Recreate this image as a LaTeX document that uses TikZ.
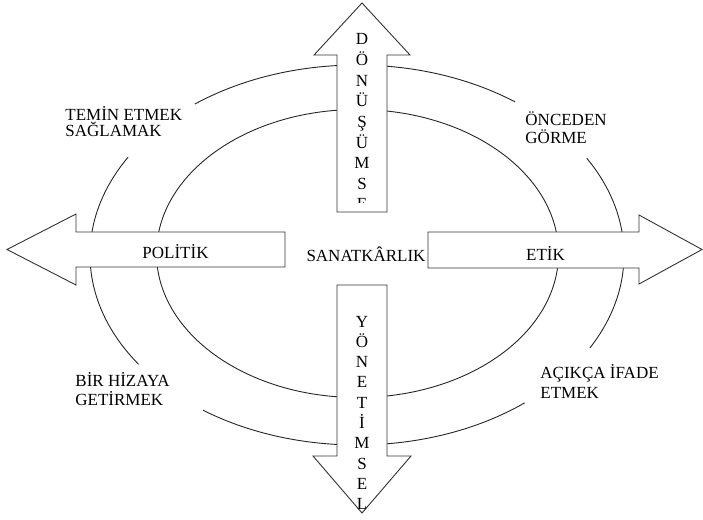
\documentclass[tikz,border=0pt]{standalone}
\usepackage{fontspec}
\setmainfont{Liberation Serif}
\begin{document}
\begin{tikzpicture}[x=1pt,y=-1pt,line width=0.9pt,
  txt/.style={inner sep=0pt,font=\fontsize{17}{19}\selectfont},
  lbl/.style={txt,anchor=base west},
  albl/.style={txt,anchor=base},
  letter/.style={txt,anchor=base},
  ring/.style={draw=black!85},
  arrowshape/.style={draw=black!80,fill=white,line join=miter}]
\useasboundingbox (0,0) rectangle (703,519);
% inner ellipse
\draw[ring] (357.5,253.5) ellipse [x radius=201,y radius=144];
% outer ellipse, broken into four arcs
\begin{scope}[shift={(357,255)}]
  \draw[ring] (232.6:267 and 190) arc[start angle=232.6,end angle=306.3,x radius=267,y radius=190];
  \draw[ring] (-30.6:267 and 190) arc[start angle=-30.6,end angle=29.3,x radius=267,y radius=190];
  \draw[ring] (51.1:267 and 190) arc[start angle=51.1,end angle=125.2,x radius=267,y radius=190];
  \draw[ring] (144.9:267 and 190) arc[start angle=144.9,end angle=211,x radius=267,y radius=190];
\end{scope}
% arrows
\draw[arrowshape] (337,212) -- (337,55) -- (314,55) -- (362,3) -- (410,55) -- (387,55) -- (387,212) -- cycle;
\draw[arrowshape] (337,285) -- (337,456) -- (313,456) -- (362,513) -- (411,456) -- (387,456) -- (387,285) -- cycle;
\draw[arrowshape] (285,232) -- (76,232) -- (76,214) -- (7,249.5) -- (76,285) -- (76,267) -- (285,267) -- cycle;
\draw[arrowshape] (428,232) -- (639,232) -- (639,215) -- (702,249.5) -- (639,284) -- (639,268) -- (428,268) -- cycle;
% vertical texts
\begin{scope}
  \clip (314,5) rectangle (410,202);
  \foreach \l [count=\i] in {D,Ö,N,Ü,Ş,Ü,M,S,E}
    \node[letter] (top\i) at (362,{45+(\i-1)*20.6}) {\l};
\end{scope}
\foreach \l [count=\i] in {Y,Ö,N,E,T,İ,M,S,E,L}
  \node[letter] (bot\i) at (362,{327+(\i-1)*20.3}) {\l};
% arrow labels
\node[albl] (politik) at (175.5,258) {POLİTİK};
\node[albl] (etik) at (545.5,260) {ETİK};
\node[albl] (sanat) at (366,261) {SANATKÂRLIK};
% corner labels
\node[lbl] (tl1) at (65,120) {TEMİN ETMEK};
\node[lbl] (tl2) at (65,136) {SAĞLAMAK};
\node[lbl] (tr1) at (525,125) {ÖNCEDEN};
\node[lbl] (tr2) at (525,143) {GÖRME};
\node[lbl] (bl1) at (75,386) {BİR HİZAYA};
\node[lbl] (bl2) at (75,405) {GETİRMEK};
\node[lbl] (br1) at (540,378) {AÇIKÇA İFADE};
\node[lbl] (br2) at (540,398) {ETMEK};
\end{tikzpicture}
\end{document}
